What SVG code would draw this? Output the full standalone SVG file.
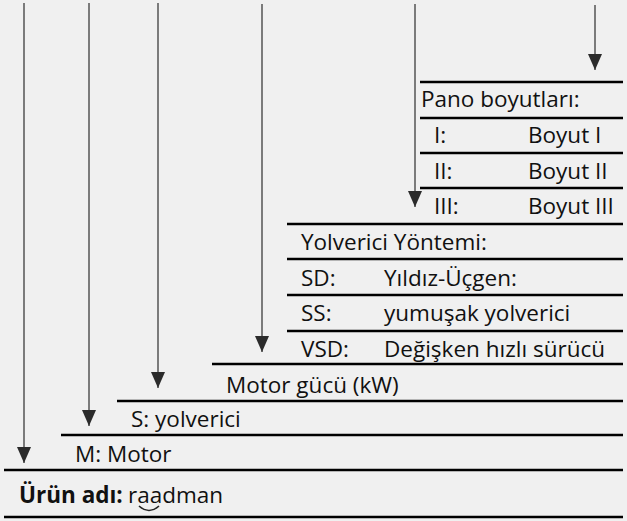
<svg xmlns="http://www.w3.org/2000/svg" width="627" height="521" viewBox="0 0 627 521">
<defs>
<style>
.t{font-family:"Open Sans","Liberation Sans",sans-serif;font-size:22.5px;fill:#111}
.b{font-weight:bold}
.h{stroke:#000;stroke-width:2.3;fill:none}
.c{stroke:#555;stroke-width:1.5;fill:none;marker-end:url(#ah)}
</style>
<marker id="ah" viewBox="0 0 16 14" refX="16" refY="7" markerWidth="16" markerHeight="14" markerUnits="userSpaceOnUse" orient="auto">
<path d="M0,0 L16,7 L0,14 z" fill="#2b2b2b"/>
</marker>
</defs>
<rect width="627" height="521" fill="#f0f0f0"/>
<g id="pano">
<line class="h" x1="420" y1="82" x2="623" y2="82"/>
<text class="t" x="421" y="107">Pano boyutları:</text>
<line class="h" x1="420" y1="118" x2="623" y2="118"/>
<text class="t" x="434" y="143">I:</text><text class="t" x="528" y="143">Boyut I</text>
<line class="h" x1="420" y1="153" x2="623" y2="153"/>
<text class="t" x="434" y="179">II:</text><text class="t" x="528" y="179">Boyut II</text>
<line class="h" x1="420" y1="188" x2="623" y2="188"/>
<text class="t" x="434" y="214">III:</text><text class="t" x="528" y="214">Boyut III</text>
</g>
<g id="yolverici-yontemi">
<line class="h" x1="287" y1="224" x2="623" y2="224"/>
<text class="t" x="301" y="250">Yolverici Yöntemi:</text>
<line class="h" x1="287" y1="259" x2="623" y2="259"/>
<text class="t" x="301" y="286">SD:</text><text class="t" x="384" y="286">Yıldız-Üçgen:</text>
<line class="h" x1="287" y1="295" x2="623" y2="295"/>
<text class="t" x="301" y="321">SS:</text><text class="t" x="384" y="321">yumuşak yolverici</text>
<line class="h" x1="287" y1="331" x2="623" y2="331"/>
<text class="t" x="301" y="357">VSD:</text><text class="t" x="384" y="357">Değişken hızlı sürücü</text>
</g>
<g id="motor-gucu">
<line class="h" x1="212" y1="364" x2="623" y2="364"/>
<text class="t" x="226" y="393">Motor gücü (kW)</text>
</g>
<g id="s-yolverici">
<line class="h" x1="117" y1="401" x2="623" y2="401"/>
<text class="t" x="131" y="427">S: yolverici</text>
</g>
<g id="m-motor">
<line class="h" x1="61" y1="435" x2="623" y2="435"/>
<text class="t" x="75" y="462">M: Motor</text>
</g>
<g id="urun-adi">
<line class="h" x1="4" y1="470" x2="623" y2="470"/>
<text class="t b" x="19" y="503">Ürün adı:</text>
<text class="t" x="128" y="503">raadman</text>
<path d="M139,506 Q149,515 159,506" stroke="#222" stroke-width="1.6" fill="none"/>
<line class="h" x1="4" y1="517" x2="623" y2="517"/>
</g>
<g id="connectors">
<line class="c" x1="24" y1="3" x2="24" y2="463"/>
<line class="c" x1="89" y1="3" x2="89" y2="426"/>
<line class="c" x1="158" y1="3" x2="158" y2="388"/>
<line class="c" x1="262" y1="4" x2="262" y2="352"/>
<line class="c" x1="415" y1="4" x2="415" y2="207"/>
<line class="c" x1="595" y1="5" x2="595" y2="70"/>
</g>
</svg>
